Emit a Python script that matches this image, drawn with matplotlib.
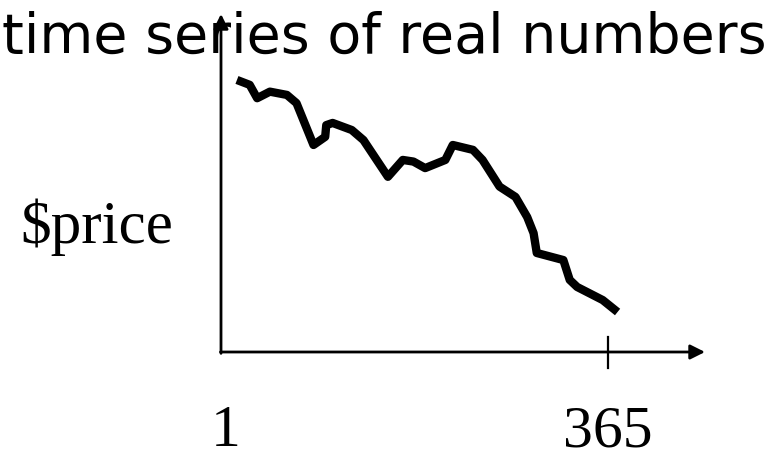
import matplotlib
matplotlib.use("Agg")
import matplotlib.pyplot as plt

# slide-style sketch: daily price over one year
days = [16, 28, 35, 47, 63, 72, 88, 99, 100, 106, 124, 135, 158, 172, 182, 193,
        212, 219, 238, 247, 263, 278, 289, 295, 298, 323, 329, 336, 360, 374]
price = [100, 98.2, 93.3, 95.7, 94.5, 91.5, 76.1, 79.1, 83.4, 84.2, 81.6, 77.9,
         64.4, 70.6, 70.0, 67.6, 70.6, 76.1, 74.3, 70.6, 60.8, 57.0, 49.6, 43.7,
         36.4, 33.8, 26.5, 23.9, 19.1, 14.7]
x_ticks = [1, 365]
x_tick_labels = ["1", "365"]

W, H = 778, 461
fig = plt.figure(figsize=(W / 100, H / 100), dpi=100)
ax = fig.add_axes([0, 0, 1, 1])
ax.set_axis_off()
# pixel 221 -> day 1, pixel 608 -> day 365 ; pixel row 352 -> price 0
sx = 364 / 387
sy = 0.3676
ax.set_xlim(1 - 221 * sx, 1 + (W - 221) * sx)
ax.set_ylim(-(H - 352) * sy, 352 * sy)

ax.plot(days, price, color="black", lw=6, solid_joinstyle="round",
        solid_capstyle="butt", zorder=3)

# axes with arrow heads
x0 = x_ticks[0]
ax.annotate("", xy=(1 + (705 - 221) * sx, 0), xytext=(x0 - 0.5, 0),
            arrowprops=dict(arrowstyle="-|>", lw=2, color="black",
                            mutation_scale=22, shrinkA=0, shrinkB=0))
ax.annotate("", xy=(x0, (352 - 14) * sy), xytext=(x0, -0.5),
            arrowprops=dict(arrowstyle="-|>", lw=2, color="black",
                            mutation_scale=22, shrinkA=0, shrinkB=0), zorder=4)
ax.plot([x_ticks[1], x_ticks[1]], [15 * sy, -16 * sy], color="black", lw=1.6)

serif = ["Liberation Serif", "DejaVu Serif"]
for t, lab in zip(x_ticks, x_tick_labels):
    ax.text(t + (4 if lab == "1" else 0), -94 * sy, lab, ha="center",
            va="baseline", fontsize=43, family=serif)
ax.text(1 - 124 * sx, 109 * sy, r"\$price", ha="center", va="baseline",
        fontsize=44, family=serif)

fig.text(384 / W, 1 - 53 / H, "time series of real numbers", ha="center",
         va="baseline", fontsize=40, family=["DejaVu Sans"], zorder=1)

fig.savefig("out.png", dpi=100)
